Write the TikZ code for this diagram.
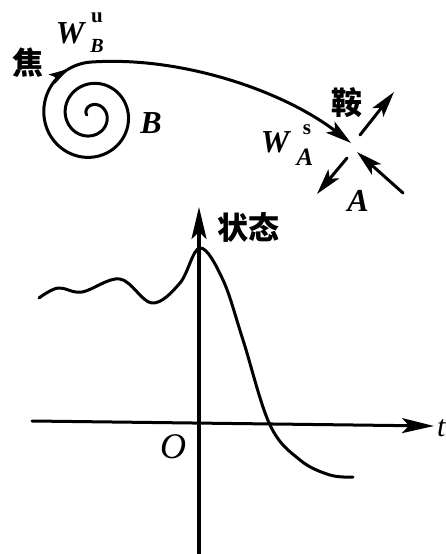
\documentclass[tikz,border=0pt]{standalone}
\usepackage{fontspec}
\setmainfont{Liberation Serif}
\newfontfamily\cjk{Noto Sans CJK SC}
\usetikzlibrary{arrows.meta}
\tikzset{
  curve/.style={line width=3pt, line cap=round, line join=round},
  bigtip/.style={-{Stealth[length=26pt,width=14pt,inset=6pt]}},
  axistip/.style={-{Stealth[length=32pt,width=15pt,inset=7pt]}},
  cjklab/.style={inner sep=0pt, font=\cjk\fontsize{31}{31}\selectfont\bfseries},
  biglab/.style={inner sep=0pt, font=\fontsize{32}{32}\selectfont\bfseries\itshape},
  sublab/.style={inner sep=0pt, font=\fontsize{22}{22}\selectfont\bfseries\itshape},
  suplab/.style={inner sep=0pt, font=\fontsize{21}{21}\selectfont\bfseries},
}
\begin{document}
\begin{tikzpicture}[x=1pt,y=-1pt]
\useasboundingbox (0,0) rectangle (446,554);
% ---------- phase portrait ----------
\coordinate (spiraltop) at (91.5,62);
\coordinate (saddle) at (354,146);
\coordinate (wsend) at (351,143);
\coordinate (u1s) at (360,135);
\coordinate (u1e) at (394,92);
\coordinate (u2s) at (347,158);
\coordinate (u2e) at (317,194);
\coordinate (s2s) at (403,193);
\coordinate (s2e) at (357,152);
% spiral (focus B)
\draw[curve, -{Stealth[length=20pt,width=11pt,inset=4pt]}]
  plot[domain=180:964, samples=260, variable=\t]
  ({91.5+(10+0.0597*(\t-270))*cos(\t)}, {115+(10+0.0597*(\t-270))*sin(\t)});
\draw[curve, bigtip]
  plot[domain=962:990, samples=20, variable=\t]
  ({91.5+(10+0.0597*(\t-270))*cos(\t)}, {115+(10+0.0597*(\t-270))*sin(\t)})
  .. controls (180,56) and (282,90) .. (wsend);
% saddle A manifolds
\draw[curve, bigtip] (u1s) -- (u1e);
\draw[curve, bigtip] (u2s) -- (u2e);
\draw[curve, bigtip] (s2s) -- (s2e);
% labels
\node[cjklab] (jiao) at (28,63) {焦};
\node[biglab] (wb) at (70,33) {W};
\node[suplab] (wbu) at (97,18) {u};
\node[sublab, font=\fontsize{20}{20}\selectfont\bfseries\itshape] (wbb) at (97,46) {B};
\node[biglab] (blab) at (151,123) {B};
\node[cjklab] (an) at (347,103) {鞍};
\node[biglab] (wa) at (275,142) {W};
\node[suplab] (was) at (307,130) {s};
\node[sublab, font=\fontsize{25}{25}\selectfont\bfseries\itshape] (waa) at (305,157) {A};
\node[biglab] (alab) at (358,201) {A};
% ---------- time plot ----------
\coordinate (vbot) at (199,554);
\coordinate (vtop) at (199,207);
\coordinate (hleft) at (32,421);
\coordinate (hright) at (434,426);
\draw[curve, line width=3.4pt, axistip] (vbot) -- (vtop);
\draw[curve, axistip] (hleft) -- (hright);
\node[cjklab] (state) at (248,227) {状态};
\node[inner sep=0pt, font=\fontsize{36}{36}\selectfont\itshape] (olab) at (173,447) {O};
\node[inner sep=0pt, anchor=west, font=\fontsize{30}{30}\selectfont\itshape] (tlab) at (437,428) {t};
\draw[curve] plot[smooth, tension=0.6] coordinates {
  (39,298) (58,288) (82,292) (120,279) (152,303) (180,283) (200,248)
  (223,280) (243,340) (270,425) (300,460) (330,475) (353,477)};
\end{tikzpicture}
\end{document}
